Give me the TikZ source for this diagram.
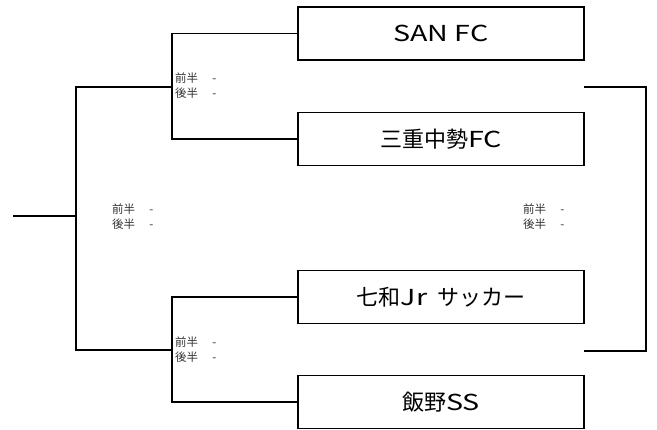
\documentclass[tikz,border=0pt]{standalone}
\usepackage{fontspec}
\newfontfamily\jpfont{Noto Sans CJK JP}
\newfontfamily\jpwide[FakeStretch=1.3]{Noto Sans CJK JP}
\usetikzlibrary{positioning}
\tikzset{%
  teambox/.style = {shape=rectangle, draw, line width=1.8pt,%
                    minimum width=286pt, minimum height=53pt,%
                    inner sep=0pt, font=\jpfont\fontsize{22}{24}\selectfont},%
  score/.style   = {anchor=west, align=left, inner sep=0pt, text=black!80,%
                    font=\jpfont\fontsize{11.5}{15}\selectfont},%
  bracket/.style = {line width=1.8pt}%
}

\begin{document}
\begin{tikzpicture}[x=1pt,y=-1pt]
	\useasboundingbox (0,0) rectangle (657,430);
	% teams
	\node [teambox] (san)    at (441,33.5) {{\jpwide SAN FC}};
	\node [teambox] (mie)    at (441,139)  {三重中勢{\jpwide FC}};
	\node [teambox] (nanawa) at (441,297)  {七和{\jpwide Jr}\ \ サッカー};
	\node [teambox] (iino)   at (441,402)  {飯野{\jpwide SS}};
	% joints
	\coordinate (semi1) at (172,87);
	\coordinate (semi2) at (172,350);
	\coordinate (final) at (76,216);
	\coordinate (win)   at (13,216);
	\coordinate (rtop)  at (584,87);
	\coordinate (rbot)  at (584,351);
	\coordinate (rmid)  at (646,219);
	\draw [bracket] (san.west) -| (semi1) |- (mie.west);
	\draw [bracket] (nanawa.west) -| (semi2) |- (iino.west);
	\draw [bracket] (semi1) -| (final) |- (semi2);
	\draw [bracket] (final) -- (win);
	\draw [bracket] (rtop) -| (rmid) |- (rbot);
	% scores
	\node [score] (sc1) at (175,85.5)  {前半\quad\ -\\後半\quad\ -};
	\node [score] (sc2) at (175,349.5) {前半\quad\ -\\後半\quad\ -};
	\node [score] (sc3) at (112,216.5) {前半\quad\ -\\後半\quad\ -};
	\node [score] (sc4) at (523,216.5) {前半\quad\ -\\後半\quad\ -};
\end{tikzpicture}
\end{document}
